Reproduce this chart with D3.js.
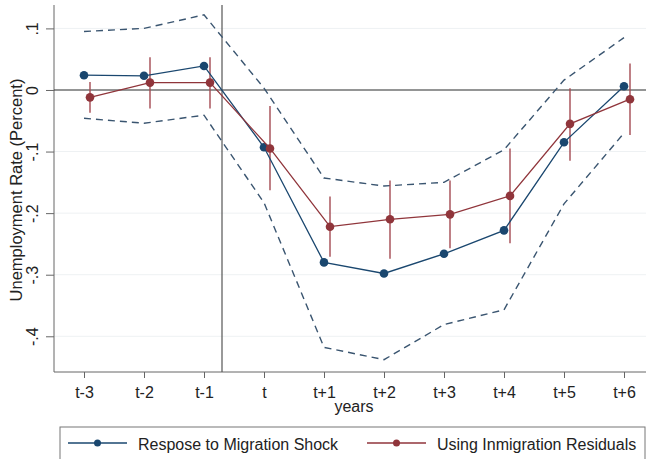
<!DOCTYPE html>
<html>
<head>
<meta charset="utf-8">
<script src="https://cdn.jsdelivr.net/npm/d3@7"></script>
<style>
  body { margin: 0; background: #fff; }
  svg { display: block; font-family: "Liberation Sans", Arial, sans-serif; }
</style>
</head>
<body>
<svg id="chart" width="646" height="459"></svg>
<script>
var years = ["t-3", "t-2", "t-1", "t", "t+1", "t+2", "t+3", "t+4", "t+5", "t+6"];
var shock = [0.024, 0.023, 0.039, -0.093, -0.280, -0.298, -0.266, -0.228, -0.085, 0.006];
var shockHi = [0.095, 0.100, 0.122, 0.003, -0.143, -0.156, -0.150, -0.097, 0.016, 0.085];
var shockLo = [-0.046, -0.054, -0.041, -0.183, -0.418, -0.438, -0.381, -0.357, -0.185, -0.070];
var resid = [-0.012, 0.012, 0.012, -0.095, -0.222, -0.210, -0.202, -0.172, -0.055, -0.015];
var residHi = [0.013, 0.053, 0.053, -0.026, -0.173, -0.147, -0.147, -0.095, 0.003, 0.043];
var residLo = [-0.037, -0.030, -0.030, -0.163, -0.271, -0.274, -0.257, -0.249, -0.115, -0.073];
var yTicks = [0.1, 0, -0.1, -0.2, -0.3, -0.4];
var yTickLabels = [".1", "0", "-.1", "-.2", "-.3", "-.4"];

var blue = "#1a476f", red = "#90353b";

var svg = d3.select("#chart");

var x = d3.scaleLinear().domain([-0.5, 9.5]).range([54, 654]);
var y = d3.scaleLinear().domain([-0.458, 0.138]).range([372, 5]);

// gridlines
svg.append("g")
	.selectAll("line")
	.data(yTicks)
	.enter()
	.append("line")
	.attr("x1", 54).attr("x2", 654)
	.attr("y1", function(d) { return y(d); })
	.attr("y2", function(d) { return y(d); })
	.attr("stroke", "#eef1f3")
	.attr("stroke-width", 1);

// y axis
var yAxis = d3.axisLeft(y)
	.tickValues(yTicks)
	.tickSize(8)
	.tickFormat(function(d, i) { return yTickLabels[i]; });
var gy = svg.append("g").attr("transform", "translate(54,0)").call(yAxis);
gy.select(".domain").attr("stroke", "#666").attr("d", "M0,5V372");
gy.selectAll(".tick line").attr("stroke", "#666");
gy.selectAll(".tick text")
	.attr("x", 0).attr("y", 0).attr("dy", 0)
	.attr("text-anchor", "middle")
	.attr("font-size", 16)
	.attr("fill", "#222")
	.attr("transform", "translate(-16,0) rotate(-90)");

// x axis
var xAxis = d3.axisBottom(x)
	.tickValues(d3.range(years.length))
	.tickSize(6)
	.tickFormat(function(d) { return years[d]; });
var gx = svg.append("g").attr("transform", "translate(0,372)").call(xAxis);
gx.select(".domain").attr("stroke", "#666").attr("d", "M54,0H654");
gx.selectAll(".tick line").attr("stroke", "#666");
gx.selectAll(".tick text")
	.attr("y", 26).attr("dy", 0)
	.attr("font-size", 16)
	.attr("fill", "#222");

// axis titles
svg.append("text")
	.attr("transform", "translate(22,190) rotate(-90)")
	.attr("text-anchor", "middle")
	.attr("font-size", 16.5)
	.attr("fill", "#222")
	.text("Unemployment Rate (Percent)");

svg.append("text")
	.attr("x", 354).attr("y", 412)
	.attr("text-anchor", "middle")
	.attr("font-size", 16)
	.attr("fill", "#222")
	.text("years");

// reference lines
svg.append("line")
	.attr("x1", 54).attr("x2", 654)
	.attr("y1", y(0)).attr("y2", y(0))
	.attr("stroke", "#333").attr("stroke-width", 1.2);
svg.append("line")
	.attr("x1", x(2.3)).attr("x2", x(2.3))
	.attr("y1", 5).attr("y2", 372)
	.attr("stroke", "#555").attr("stroke-width", 1.2);

// confidence bands (dashed)
var line = d3.line()
	.x(function(d, i) { return x(i); })
	.y(function(d) { return y(d); });

[shockHi, shockLo].forEach(function(band) {
	svg.append("path")
		.attr("d", line(band))
		.attr("fill", "none")
		.attr("stroke", "#3a5570")
		.attr("stroke-width", 1.4)
		.attr("stroke-dasharray", "7,5");
});

// red error bars
var off = 0.1;
svg.append("g")
	.selectAll("line")
	.data(resid)
	.enter()
	.append("line")
	.attr("x1", function(d, i) { return x(i + off); })
	.attr("x2", function(d, i) { return x(i + off); })
	.attr("y1", function(d, i) { return y(residHi[i]); })
	.attr("y2", function(d, i) { return y(residLo[i]); })
	.attr("stroke", "#a44a52")
	.attr("stroke-width", 1.4);

// blue series
svg.append("path")
	.attr("d", line(shock))
	.attr("fill", "none")
	.attr("stroke", blue)
	.attr("stroke-width", 1.3);
svg.append("g")
	.selectAll("circle")
	.data(shock)
	.enter()
	.append("circle")
	.attr("cx", function(d, i) { return x(i); })
	.attr("cy", function(d) { return y(d); })
	.attr("r", 4.3)
	.attr("fill", blue);

// red series
var lineOff = d3.line()
	.x(function(d, i) { return x(i + off); })
	.y(function(d) { return y(d); });
svg.append("path")
	.attr("d", lineOff(resid))
	.attr("fill", "none")
	.attr("stroke", red)
	.attr("stroke-width", 1.3);
svg.append("g")
	.selectAll("circle")
	.data(resid)
	.enter()
	.append("circle")
	.attr("cx", function(d, i) { return x(i + off); })
	.attr("cy", function(d) { return y(d); })
	.attr("r", 4.3)
	.attr("fill", red);

// legend
var leg = svg.append("g");
leg.append("rect")
	.attr("x", 60).attr("y", 427)
	.attr("width", 585).attr("height", 40)
	.attr("fill", "#fff")
	.attr("stroke", "#777").attr("stroke-width", 1);

var legItems = [
	{ label: "Respose to Migration Shock", color: blue, x0: 68 },
	{ label: "Using Inmigration Residuals", color: red, x0: 367 }
];
legItems.forEach(function(it) {
	leg.append("line")
		.attr("x1", it.x0).attr("x2", it.x0 + 59)
		.attr("y1", 443).attr("y2", 443)
		.attr("stroke", it.color).attr("stroke-width", 1.3);
	leg.append("circle")
		.attr("cx", it.x0 + 29.5).attr("cy", 443)
		.attr("r", 3.5).attr("fill", it.color);
	leg.append("text")
		.attr("x", it.x0 + 70).attr("y", 450)
		.attr("font-size", 16)
		.attr("fill", "#222")
		.text(it.label);
});
</script>
</body>
</html>
